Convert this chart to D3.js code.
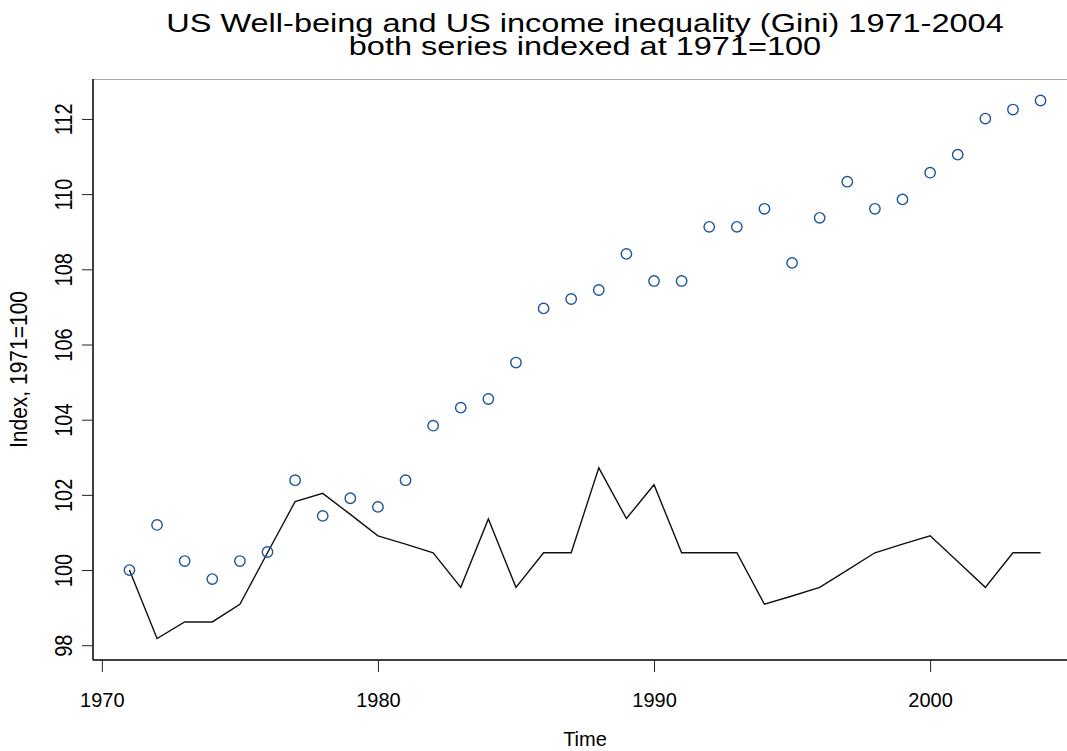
<!DOCTYPE html>
<html>
<head>
<meta charset="utf-8">
<script src="https://cdn.jsdelivr.net/npm/d3@7"></script>
<style>
  body { margin: 0; background: #fff; }
  svg { display: block; font-family: "Liberation Sans", Arial, sans-serif; }
</style>
</head>
<body>
<svg id="chart" width="1067" height="751"></svg>
<script>
// data
const years = d3.range(1971, 2005)
const wellbeing = [100.0, 101.2, 100.24, 99.76, 100.24, 100.48, 102.39, 101.44, 101.91, 101.68,
                   102.39, 103.84, 104.32, 104.55, 105.52, 106.96, 107.21, 107.45, 108.41, 107.69,
                   107.69, 109.13, 109.13, 109.61, 108.17, 109.37, 110.33, 109.61, 109.86, 110.57,
                   111.05, 112.01, 112.25, 112.49]
const gini = [100.0, 98.18, 98.62, 98.62, 99.09, 100.46, 101.82, 102.04, 101.48, 100.91,
              100.69, 100.46, 99.54, 101.36, 99.54, 100.46, 100.46, 102.72, 101.37, 102.27,
              100.46, 100.46, 100.46, 99.09, 99.31, 99.54, 100.0, 100.46, 100.69, 100.91,
              100.23, 99.54, 100.46, 100.46]
const xTicks = [1970, 1980, 1990, 2000]
const yTicks = [98, 100, 102, 104, 106, 108, 110, 112]

const titleLines = ["US Well-being and US income inequality (Gini) 1971-2004",
                    "both series indexed at 1971=100"]

const svg = d3.select("#chart")

// plot region, R style 4% padding on both axes
const plotLeft = 93, plotRight = 1077, plotTop = 79, plotBottom = 660
const xPad = (d3.max(years) - d3.min(years)) * 0.04
const allY = wellbeing.concat(gini)
const yPad = (d3.max(allY) - d3.min(allY)) * 0.04

const x = d3.scaleLinear()
    .domain([d3.min(years) - xPad, d3.max(years) + xPad])
    .range([plotLeft, plotRight])
const y = d3.scaleLinear()
    .domain([d3.min(allY) - yPad, d3.max(allY) + yPad])
    .range([plotBottom, plotTop])

const midX = (plotLeft + plotRight) / 2

// faint top edge
svg.append("line")
    .attr("x1", plotLeft).attr("x2", 1067)
    .attr("y1", plotTop + 0.5).attr("y2", plotTop + 0.5)
    .attr("stroke", "#aaa").attr("stroke-width", 1)

// axes
const xAxis = svg.append("g")
    .attr("transform", `translate(0,${plotBottom})`)
    .call(d3.axisBottom(x).tickValues(xTicks).tickFormat(d3.format("d")).tickSize(12).tickSizeOuter(0))
xAxis.select(".domain").attr("stroke", "#000").attr("stroke-width", 1.5)
    .attr("d", `M${plotLeft},0H1067`)
xAxis.selectAll(".tick line").attr("stroke", "#222")
xAxis.selectAll(".tick text")
    .attr("y", 33)
    .attr("font-size", 20)
    .attr("font-family", "Liberation Sans, Arial, sans-serif")
    .attr("fill", "#000")

const yAxis = svg.append("g")
    .attr("transform", `translate(${plotLeft},0)`)
    .call(d3.axisLeft(y).tickValues(yTicks).tickSize(11).tickSizeOuter(0))
yAxis.select(".domain").attr("stroke", "#000").attr("stroke-width", 1.5)
    .attr("d", `M0,${plotTop}V${plotBottom}`)
yAxis.selectAll(".tick line").attr("stroke", "#222")
yAxis.selectAll(".tick text")
    .attr("x", null).attr("dy", null)
    .attr("text-anchor", "middle")
    .attr("transform", "translate(-21,0) scale(1.15,1) rotate(-90)")
    .attr("font-size", 20)
    .attr("font-family", "Liberation Sans, Arial, sans-serif")
    .attr("fill", "#000")

// gini line
const line = d3.line()
    .x((d, i) => x(years[i]))
    .y(d => y(d))

svg.append("path")
    .datum(gini)
    .attr("d", line)
    .attr("fill", "none")
    .attr("stroke", "#111")
    .attr("stroke-width", 1.4)
    .attr("stroke-linejoin", "miter")

// well-being points
svg.append("g")
    .selectAll("circle")
    .data(wellbeing)
    .join("circle")
    .attr("cx", (d, i) => x(years[i]))
    .attr("cy", d => y(d))
    .attr("r", 5.2)
    .attr("fill", "none")
    .attr("stroke", "#1d5696")
    .attr("stroke-width", 1.4)

// titles, the reference text is a bit stretched sideways
svg.append("g")
    .selectAll("text")
    .data(titleLines)
    .join("text")
    .attr("transform", (d, i) => `translate(${midX},${32 + i * 23}) scale(1.25,1)`)
    .attr("text-anchor", "middle")
    .attr("font-size", 26)
    .attr("fill", "#000")
    .text(d => d)

svg.append("text")
    .attr("x", midX)
    .attr("y", 746)
    .attr("text-anchor", "middle")
    .attr("font-size", 20)
    .text("Time")

svg.append("text")
    .attr("transform", `translate(27,${(plotTop + plotBottom) / 2}) scale(1.1,1) rotate(-90)`)
    .attr("text-anchor", "middle")
    .attr("font-size", 21)
    .text("Index, 1971=100")
</script>
</body>
</html>
